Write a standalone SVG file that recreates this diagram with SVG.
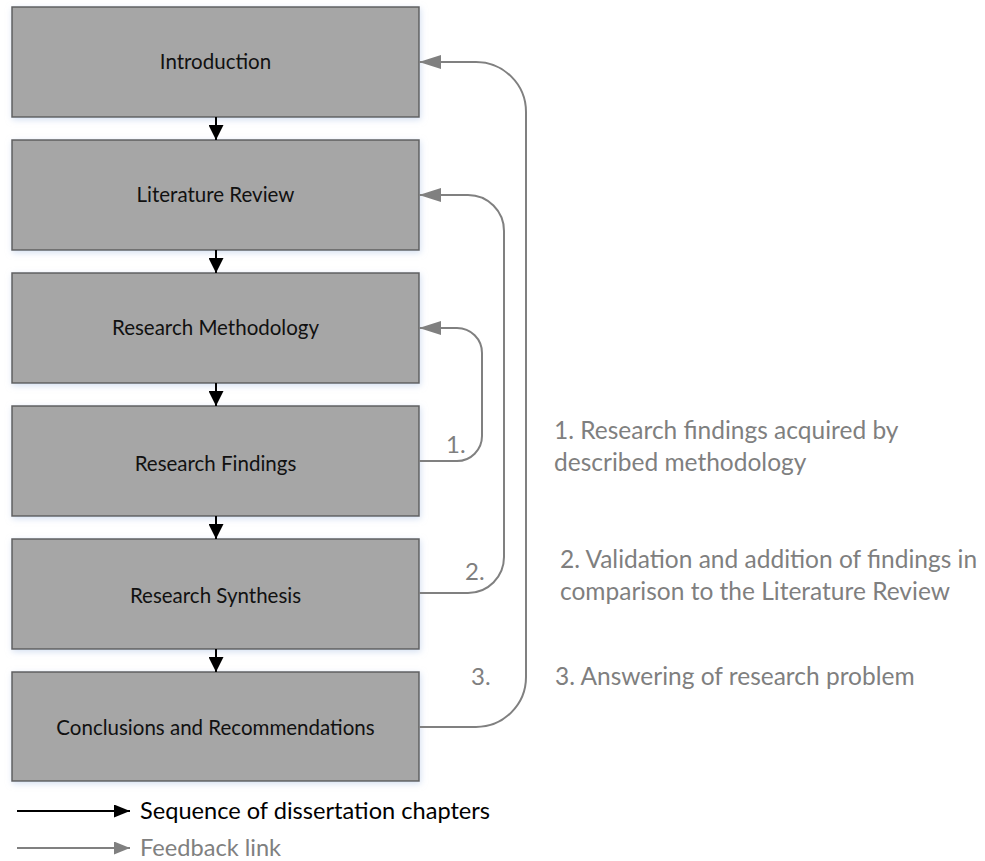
<svg xmlns="http://www.w3.org/2000/svg" width="985" height="861" viewBox="0 0 985 861">
<style>
.box{fill:#a6a6a6;stroke:#5f5f5f;stroke-width:1.5;filter:url(#sh)}
.lbl{font-family:Lato,"Liberation Sans",sans-serif;font-size:20.5px;fill:#111;text-anchor:middle}
.seq{stroke:#000;stroke-width:2;fill:none}
.fb{stroke:#808080;stroke-width:2;fill:none}
.note{font-family:Lato,"Liberation Sans",sans-serif;font-size:24.5px;fill:#7f7f7f}
.num{font-family:Lato,"Liberation Sans",sans-serif;font-size:24px;fill:#7f7f7f}
.leg{font-family:Lato,"Liberation Sans",sans-serif;font-size:23.6px}
</style>
<defs>
<filter id="sh" x="-5%" y="-10%" width="112%" height="125%">
<feDropShadow dx="1" dy="2" stdDeviation="3" flood-color="#b8cbe8" flood-opacity="0.6"/>
</filter>
<marker id="ab" markerUnits="userSpaceOnUse" markerWidth="15" markerHeight="15" refX="15" refY="7.5" orient="auto"><path d="M0,0 L15,7.5 L0,15 z" fill="#000"/></marker>
<marker id="ag" markerUnits="userSpaceOnUse" markerWidth="22" markerHeight="14" refX="22" refY="7" orient="auto"><path d="M0,0 L22,7 L0,14 z" fill="#808080"/></marker>
<marker id="lb" markerUnits="userSpaceOnUse" markerWidth="16" markerHeight="13" refX="16" refY="6.5" orient="auto"><path d="M0,0 L16,6.5 L0,13 z" fill="#000"/></marker>
<marker id="lg" markerUnits="userSpaceOnUse" markerWidth="16" markerHeight="13" refX="16" refY="6.5" orient="auto"><path d="M0,0 L16,6.5 L0,13 z" fill="#808080"/></marker>
</defs>
<rect width="985" height="861" fill="#fff"/>
<g id="n1"><rect class="box" x="12" y="7" width="407" height="110"/><text class="lbl" x="215.5" y="69">Introduction</text></g>
<g id="n2"><rect class="box" x="12" y="140" width="407" height="110"/><text class="lbl" x="215.5" y="202">Literature Review</text></g>
<g id="n3"><rect class="box" x="12" y="273" width="407" height="110"/><text class="lbl" x="215.5" y="335">Research Methodology</text></g>
<g id="n4"><rect class="box" x="12" y="406" width="407" height="110"/><text class="lbl" x="215.5" y="471">Research Findings</text></g>
<g id="n5"><rect class="box" x="12" y="539" width="407" height="110"/><text class="lbl" x="215.5" y="603">Research Synthesis</text></g>
<g id="n6"><rect class="box" x="12" y="672" width="407" height="109"/><text class="lbl" x="215.5" y="735">Conclusions and Recommendations</text></g>
<g id="connectors">
<path class="seq" d="M216,117 V140" marker-end="url(#ab)"/>
<path class="seq" d="M216,250 V273" marker-end="url(#ab)"/>
<path class="seq" d="M216,383 V406" marker-end="url(#ab)"/>
<path class="seq" d="M216,516 V539" marker-end="url(#ab)"/>
<path class="seq" d="M216,649 V672" marker-end="url(#ab)"/>
<path class="fb" d="M419,461 H457 A25,25 0 0 0 482,436 V353 A25,25 0 0 0 457,328 H419" marker-end="url(#ag)"/>
<path class="fb" d="M419,593 H468 A36,36 0 0 0 504,557 V231 A36,36 0 0 0 468,195 H419" marker-end="url(#ag)"/>
<path class="fb" d="M419,727 H476 A50,50 0 0 0 526,677 V112 A50,50 0 0 0 476,62 H419" marker-end="url(#ag)"/>
<text class="num" x="446" y="453">1.</text>
<text class="num" x="465" y="580">2.</text>
<text class="num" x="471" y="685">3.</text>
</g>
<g id="notes">
<text class="note" x="554" y="439">1. Research findings acquired by</text>
<text class="note" x="554" y="471">described methodology</text>
<text class="note" x="560" y="568">2. Validation and addition of findings in</text>
<text class="note" x="560" y="600">comparison to the Literature Review</text>
<text class="note" x="555" y="685">3. Answering of research problem</text>
</g>
<g id="legend">
<path class="seq" d="M17,811 H130" marker-end="url(#lb)"/>
<text class="leg" x="140" y="819" fill="#000">Sequence of dissertation chapters</text>
<path class="fb" d="M17,848 H130" marker-end="url(#lg)"/>
<text class="leg" x="140" y="856" fill="#808080">Feedback link</text>
</g>
</svg>
